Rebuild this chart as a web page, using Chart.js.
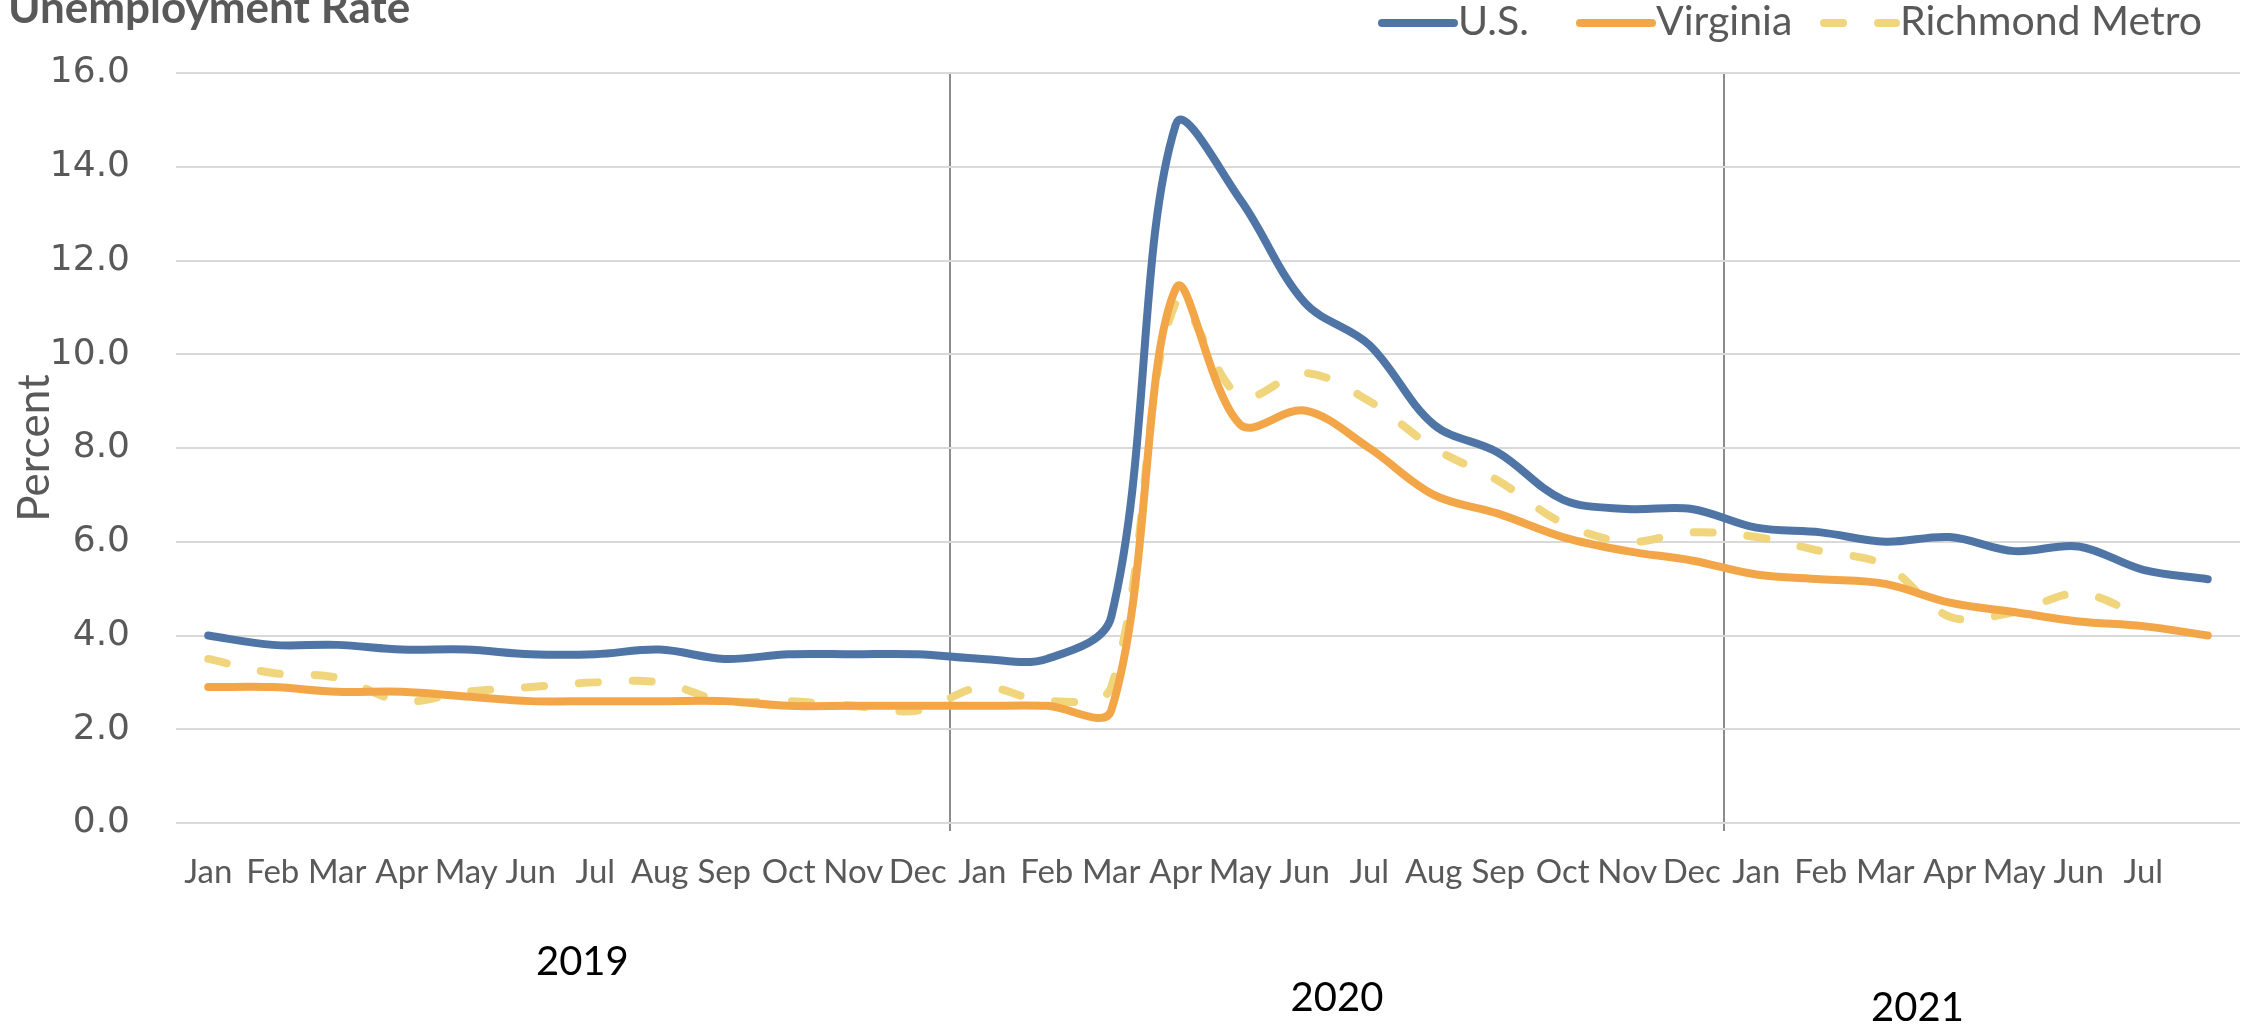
<!DOCTYPE html>
<html>
<head>
<meta charset="utf-8">
<title>Unemployment Rate</title>
<script src="https://cdn.jsdelivr.net/npm/chart.js@4.4.1/dist/chart.umd.min.js"></script>
<style>
  html, body { margin: 0; padding: 0; background: #fff; }
  #wrap { position: relative; width: 2257px; height: 1025px; }
</style>
</head>
<body>
<div id="wrap"><canvas id="chart"></canvas></div>
<script>
// months Jan 2019 .. Aug 2021 (the last one has no label in the original)
const months = [
    'Jan', 'Feb', 'Mar', 'Apr', 'May', 'Jun', 'Jul', 'Aug', 'Sep', 'Oct', 'Nov', 'Dec',
    'Jan', 'Feb', 'Mar', 'Apr', 'May', 'Jun', 'Jul', 'Aug', 'Sep', 'Oct', 'Nov', 'Dec',
    'Jan', 'Feb', 'Mar', 'Apr', 'May', 'Jun', 'Jul', ''
];
const years = ['2019', '2020', '2021'];

const usRate = [
    4.0, 3.8, 3.8, 3.7, 3.7, 3.6, 3.6, 3.7, 3.5, 3.6, 3.6, 3.6,
    3.5, 3.5, 4.4, 14.9, 13.3, 11.1, 10.2, 8.5, 7.9, 6.9, 6.7, 6.7,
    6.3, 6.2, 6.0, 6.1, 5.8, 5.9, 5.4, 5.2
];
const virginiaRate = [
    2.9, 2.9, 2.8, 2.8, 2.7, 2.6, 2.6, 2.6, 2.6, 2.5, 2.5, 2.5,
    2.5, 2.5, 2.4, 11.4, 8.5, 8.8, 8.0, 7.0, 6.6, 6.1, 5.8, 5.6,
    5.3, 5.2, 5.1, 4.7, 4.5, 4.3, 4.2, 4.0
];
const richmondRate = [
    3.5, 3.2, 3.1, 2.6, 2.8, 2.9, 3.0, 3.0, 2.6, 2.6, 2.5, 2.4,
    2.9, 2.6, 2.9, 11.1, 9.1, 9.6, 9.0, 8.0, 7.3, 6.4, 6.0, 6.2,
    6.1, 5.8, 5.5, 4.4, 4.5, 4.9, 4.4, null
];

const SANS = "Lato, 'Liberation Sans', sans-serif";
const GREY = '#595959';

// year captions: position along the category axis + vertical centre
const yearSpots = [
    { at: 5.8, y: 962 },
    { at: 17.5, y: 998 },
    { at: 26.5, y: 1008 }
];
const legendX = [1382, 1580, 1824];

const extras = {
    id: 'extras',
    afterDraw(chart) {
        const ctx = chart.ctx;
        const xs = chart.scales.x;
        ctx.save();

        // title, cut at the top like the original
        ctx.font = 'bold 44px ' + SANS;
        ctx.fillStyle = GREY;
        ctx.textAlign = 'left';
        ctx.textBaseline = 'alphabetic';
        ctx.fillText('Unemployment Rate', 8, 23);

        // legend
        chart.data.datasets.forEach(function (ds, i) {
            const x = legendX[i];
            ctx.save();
            ctx.strokeStyle = ds.borderColor;
            ctx.lineWidth = ds.borderWidth;
            ctx.lineCap = 'round';
            ctx.setLineDash(ds.borderDash || []);
            ctx.beginPath();
            ctx.moveTo(x, 23);
            ctx.lineTo(x + 72, 23);
            ctx.stroke();
            ctx.restore();
            ctx.font = '41px ' + SANS;
            ctx.fillStyle = GREY;
            ctx.textBaseline = 'middle';
            ctx.fillText(ds.label, x + 76, 22);
        });

        // year captions under the month labels
        ctx.font = '40px ' + SANS;
        ctx.fillStyle = '#000';
        ctx.textAlign = 'center';
        ctx.textBaseline = 'middle';
        years.forEach(function (yr, i) {
            ctx.fillText(yr, xs.getPixelForValue(yearSpots[i].at), yearSpots[i].y);
        });
        ctx.restore();
    }
};

new Chart(document.getElementById('chart'), {
    type: 'line',
    data: {
        labels: months,
        datasets: [
            {
                label: 'U.S.',
                data: usRate,
                borderColor: '#4e75a6',
                borderWidth: 8
            }, {
                label: 'Virginia',
                data: virginiaRate,
                borderColor: '#f3a648',
                borderWidth: 8
            }, {
                label: 'Richmond Metro',
                data: richmondRate,
                borderColor: '#f0d57d',
                borderWidth: 8,
                borderDash: [19, 35]
            }
        ]
    },
    options: {
        responsive: true,
        maintainAspectRatio: false,
        animation: false,
        devicePixelRatio: 1,
        layout: { padding: { top: 73, right: 17, bottom: 0, left: 0 } },
        elements: {
            point: { radius: 0, hoverRadius: 0 },
            line: { tension: 0.35, borderCapStyle: 'round', borderJoinStyle: 'round', fill: false }
        },
        plugins: {
            legend: { display: false },
            title: { display: false },
            tooltip: { enabled: false }
        },
        scales: {
            x: {
                offset: true,
                afterFit: function (scale) { scale.height = 202; },
                border: { display: false },
                grid: {
                    offset: true,
                    lineWidth: 2,
                    tickLength: 8,
                    color: function (c) {
                        return (c.index === 12 || c.index === 24) ? '#8c8c8c' : 'rgba(0,0,0,0)';
                    }
                },
                ticks: {
                    autoSkip: false,
                    maxRotation: 0,
                    padding: 22,
                    color: GREY,
                    font: { family: SANS, size: 33 }
                }
            },
            y: {
                min: 0,
                max: 16,
                afterFit: function (scale) { scale.width = 176; },
                border: { display: false },
                grid: { color: '#d9d9d9', lineWidth: 2, drawTicks: false },
                ticks: {
                    stepSize: 2,
                    padding: 46,
                    color: GREY,
                    font: { family: "'DejaVu Sans', sans-serif", size: 36 },
                    callback: function (v) { return v.toFixed(1); }
                },
                title: {
                    display: true,
                    text: 'Percent',
                    color: GREY,
                    padding: { top: 8, bottom: 0 },
                    font: { family: SANS, size: 44 }
                }
            }
        }
    },
    plugins: [extras]
});
</script>
</body>
</html>
